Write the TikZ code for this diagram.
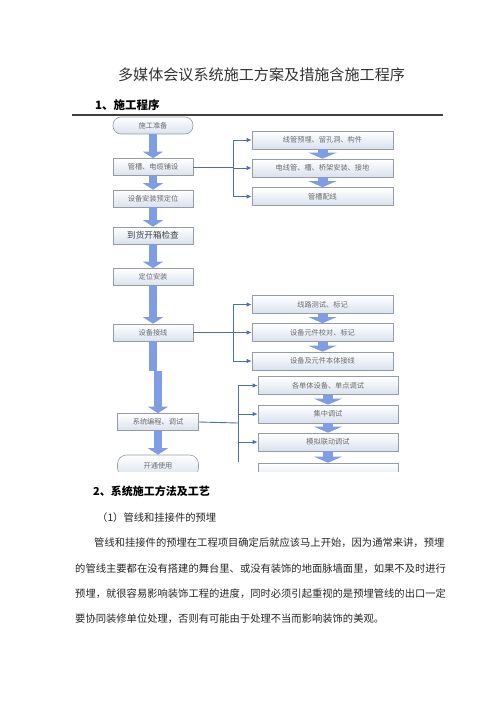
\documentclass[tikz,border=0pt]{standalone}
\usepackage{fontspec}
\setmainfont{Noto Sans CJK SC}
\usepackage{tikz}
\usetikzlibrary{shapes,arrows}
\usetikzlibrary{arrows.meta}
\usetikzlibrary{positioning}
\definecolor{flowblue}{RGB}{126, 157, 228}
\definecolor{linkblue}{RGB}{78, 110, 178}
\definecolor{boxedge}{RGB}{150, 156, 166}
\definecolor{boxfill}{RGB}{218, 225, 238}
\newcommand{\fsz}[1]{\fontsize{#1}{#1}\selectfont}

\begin{document}
\begin{tikzpicture}[x=1pt, y=-1pt,
        stepbox/.style={draw=boxedge, line width=.6pt, top color=white, bottom color=boxfill,
                inner sep=0pt, font=\fsz{7.2}, text=black!58},
        leftbox/.style={stepbox, minimum width=80pt, minimum height=17pt},
        rightbox/.style={stepbox, minimum width=141pt, minimum height=18pt},
        endbox/.style={leftbox, rounded corners=8pt},
        bigflow/.style={flowblue, line width=8pt, -{Triangle[width=20pt,length=6.5pt,line width=0pt]}},
        smallflow/.style={flowblue, line width=10pt, -{Triangle[width=28pt,length=6pt,line width=0pt]}},
        link/.style={linkblue, line width=.9pt},
        linkto/.style={link, -{Latex[length=5pt,width=4.5pt]}},
        txt/.style={anchor=west, inner sep=0pt, font=\fsz{10.3}, text=black!85}]
        \useasboundingbox (0,0) rectangle (500,707);

        \node [font=\fsz{15.1}, text=black!80] (title) at (261.5,75) {多媒体会议系统施工方案及措施含施工程序};
        \node [txt, font=\fsz{11.5}\bfseries, text=black] (sec1) at (95,105) {1、施工程序};
        \draw [line width=1.3pt, black!75] (72,115) -- (443,115);

        \begin{scope}
        \clip (60,115) rectangle (450,471);
        % main column
        \node [endbox] (zhunbei) at (153,125.5) {施工准备};
        \node [leftbox] (guancao) at (153,167) {管槽、电缆铺设};
        \node [leftbox] (yuding) at (153,198.5) {设备安装预定位};
        \node [leftbox, font=\fsz{8.6}, text=black!75] (daohuo) at (153,235.5) {到货开箱检查};
        \node [leftbox] (dingwei) at (153,277) {定位安装};
        \node [leftbox] (jiexian) at (153,332.5) {设备接线};
        \coordinate (seam) at (153,371);

        \node [rightbox] (yumai) at (322.5,140) {线管预埋、留孔洞、构件};
        \node [rightbox] (qiaojia) at (322.5,168) {电线管、槽、桥架安装、接地};
        \node [rightbox] (peixian) at (322.5,196.5) {管槽配线};
        \node [rightbox] (ceshi) at (322.5,304.5) {线路测试、标记};
        \node [rightbox] (jiaodui) at (322.5,332.5) {设备元件校对、标记};
        \node [rightbox] (benti) at (322.5,361) {设备及元件本体接线};

        \foreach \p/\q in {zhunbei/guancao, guancao/yuding, yuding/daohuo, daohuo/dingwei, dingwei/jiexian}
                \draw [bigflow] (\p.south) -- (\q.north);
        \draw [flowblue, line width=8pt] (jiexian.south) -- (seam);
        \foreach \p/\q in {yumai/qiaojia, qiaojia/peixian, ceshi/jiaodui, jiaodui/benti}
                \draw [smallflow] (\p.south) -- (\q.north);

        \coordinate (forkA) at (233,167);
        \draw [link] (guancao.east) -- (forkA);
        \draw [link] (forkA |- yumai.west) -- (forkA |- peixian.west);
        \foreach \nm in {yumai, qiaojia, peixian}
                \draw [linkto] (forkA |- \nm.west) -- (\nm.west);
        \coordinate (forkB) at (233,332.5);
        \draw [link] (jiexian.east) -- (forkB);
        \draw [link] (forkB |- ceshi.west) -- (forkB |- benti.west);
        \foreach \nm in {ceshi, jiaodui, benti}
                \draw [linkto] (forkB |- \nm.west) -- (\nm.west);

        % lower part sits a little to the right
        \begin{scope}[xshift=5pt]
        \coordinate (seamlow) at (153,371);
        \node [leftbox, minimum width=81pt] (biancheng) at (153,422) {系统编程、调试};
        \node [endbox, minimum width=81pt, minimum height=22pt, rounded corners=9pt] (kaitong) at (153,466) {开通使用};
        \node [rightbox, minimum width=140pt] (dandian) at (323,385.5) {各单体设备、单点调试};
        \node [rightbox, minimum width=140pt] (jizhong) at (323,414) {集中调试};
        \node [rightbox, minimum width=140pt] (liandong) at (323,442) {模拟联动调试};
        \node [rightbox, minimum width=140pt] (lastbox) at (323,472) {};

        \draw [bigflow] (seamlow) -- (biancheng.north);
        \draw [bigflow] (biancheng.south) -- (kaitong.north);
        \foreach \p/\q in {dandian/jizhong, jizhong/liandong, liandong/lastbox}
                \draw [smallflow] (\p.south) -- (\q.north);

        \coordinate (forkC) at (233,423);
        \draw [link] (biancheng.east) -- (forkC);
        \draw [link] (forkC |- dandian.west) -- ([yshift=10pt]forkC |- lastbox.west);
        \foreach \nm in {dandian, jizhong, liandong}
                \draw [linkto] (forkC |- \nm.west) -- (\nm.west);
        \end{scope}
        \end{scope}

        \node [txt, font=\fsz{11}\bfseries, text=black] (sec2) at (93,491) {2、系统施工方法及工艺};
        \node [txt] (sub1) at (97,518) {（1）管线和挂接件的预埋};
        \node [txt] (para1) at (94,543) {管线和挂接件的预埋在工程项目确定后就应该马上开始，因为通常来讲，预埋};
        \node [txt] (para2) at (75,569) {的管线主要都在没有搭建的舞台里、或没有装饰的地面脉墙面里，如果不及时进行};
        \node [txt] (para3) at (75,594) {预埋，就很容易影响装饰工程的进度，同时必须引起重视的是预埋管线的出口一定};
        \node [txt] (para4) at (75,619) {要协同装修单位处理，否则有可能由于处理不当而影响装饰的美观。};
      \end{tikzpicture}
\end{document}
